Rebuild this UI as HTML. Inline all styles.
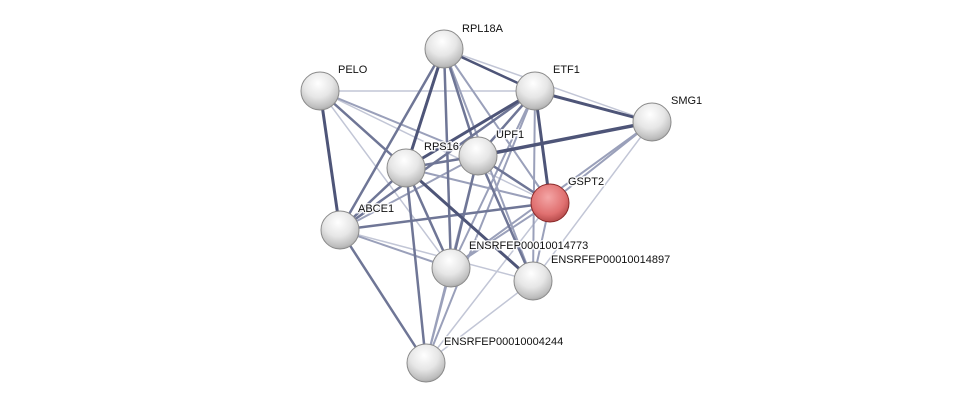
<!DOCTYPE html>
<html><head><meta charset="utf-8"><style>
html,body{margin:0;padding:0;background:#fff;width:976px;height:408px;overflow:hidden}
text{font-family:"Liberation Sans",sans-serif;font-size:11px;fill:#111;paint-order:stroke;stroke:#fff;stroke-width:3px;stroke-opacity:0.85}
</style></head><body>
<svg width="976" height="408" viewBox="0 0 976 408" xmlns="http://www.w3.org/2000/svg">
<defs>
<radialGradient id="g" cx="0.45" cy="0.3" r="0.75">
<stop offset="0" stop-color="#ffffff"/><stop offset="0.5" stop-color="#e6e6e6"/><stop offset="0.85" stop-color="#bdbdbd"/><stop offset="1" stop-color="#9a9a9a"/></radialGradient>
<radialGradient id="r" cx="0.45" cy="0.35" r="0.75">
<stop offset="0" stop-color="#f4a6a6"/><stop offset="0.6" stop-color="#e07070"/><stop offset="1" stop-color="#a33a3a"/></radialGradient>
</defs>
<g stroke-linecap="round">
<g stroke="#c2c6d6" stroke-width="1.5">
<line x1="320" y1="91" x2="535" y2="91"/>
<line x1="444" y1="49" x2="652" y2="122"/>
<line x1="320" y1="91" x2="550" y2="203"/>
<line x1="320" y1="91" x2="451" y2="268"/>
<line x1="652" y1="122" x2="533" y2="281"/>
<line x1="535" y1="91" x2="652" y2="122"/>
<line x1="340" y1="230" x2="533" y2="281"/>
<line x1="426" y1="363" x2="533" y2="281"/>
<line x1="406" y1="168" x2="533" y2="281"/>
<line x1="550" y1="203" x2="426" y2="363"/>
</g>
<g stroke="#9aa0ba" stroke-width="2">
<line x1="444" y1="49" x2="535" y2="91"/>
<line x1="444" y1="49" x2="550" y2="203"/>
<line x1="444" y1="49" x2="533" y2="281"/>
<line x1="652" y1="122" x2="550" y2="203"/>
<line x1="652" y1="122" x2="451" y2="268"/>
<line x1="320" y1="91" x2="478" y2="156"/>
<line x1="340" y1="230" x2="451" y2="268"/>
<line x1="535" y1="91" x2="451" y2="268"/>
<line x1="535" y1="91" x2="426" y2="363"/>
<line x1="478" y1="156" x2="426" y2="363"/>
<line x1="478" y1="156" x2="340" y2="230"/>
<line x1="550" y1="203" x2="451" y2="268"/>
<line x1="451" y1="268" x2="426" y2="363"/>
<line x1="550" y1="203" x2="533" y2="281"/>
<line x1="406" y1="168" x2="550" y2="203"/>
<line x1="535" y1="91" x2="533" y2="281"/>
</g>
<g stroke="#6f7696" stroke-width="2.5">
<line x1="444" y1="49" x2="406" y2="168"/>
<line x1="444" y1="49" x2="478" y2="156"/>
<line x1="444" y1="49" x2="340" y2="230"/>
<line x1="444" y1="49" x2="451" y2="268"/>
<line x1="535" y1="91" x2="478" y2="156"/>
<line x1="535" y1="91" x2="340" y2="230"/>
<line x1="478" y1="156" x2="550" y2="203"/>
<line x1="478" y1="156" x2="451" y2="268"/>
<line x1="478" y1="156" x2="533" y2="281"/>
<line x1="406" y1="168" x2="451" y2="268"/>
<line x1="406" y1="168" x2="426" y2="363"/>
<line x1="406" y1="168" x2="478" y2="156"/>
<line x1="340" y1="230" x2="426" y2="363"/>
<line x1="550" y1="203" x2="340" y2="230"/>
<line x1="320" y1="91" x2="406" y2="168"/>
<line x1="406" y1="168" x2="340" y2="230"/>
</g>
<g stroke="#4e5578" stroke-width="3">
<line x1="320" y1="91" x2="340" y2="230"/>
<line x1="444" y1="49" x2="535" y2="91" stroke-width="2.5"/>
<line x1="535" y1="91" x2="406" y2="168"/>
<line x1="535" y1="91" x2="550" y2="203"/>
<line x1="535" y1="91" x2="652" y2="122"/>
<line x1="652" y1="122" x2="478" y2="156" stroke-width="3.5"/>
<line x1="406" y1="168" x2="533" y2="281"/>
<line x1="444" y1="49" x2="406" y2="168" stroke-width="3"/>
</g>
</g>
<g stroke="#8a8a8a" stroke-width="1">
<circle cx="444" cy="49" r="19" fill="url(#g)"/>
<circle cx="320" cy="91" r="19" fill="url(#g)"/>
<circle cx="535" cy="91" r="19" fill="url(#g)"/>
<circle cx="652" cy="122" r="19" fill="url(#g)"/>
<circle cx="478" cy="156" r="19" fill="url(#g)"/>
<circle cx="406" cy="168" r="19" fill="url(#g)"/>
<circle cx="550" cy="203" r="19" fill="url(#r)" stroke="#8a2a2a"/>
<circle cx="340" cy="230" r="19" fill="url(#g)"/>
<circle cx="451" cy="268" r="19" fill="url(#g)"/>
<circle cx="533" cy="281" r="19" fill="url(#g)"/>
<circle cx="426" cy="363" r="19" fill="url(#g)"/>
</g>
<text x="462" y="32">RPL18A</text>
<text x="338" y="73">PELO</text>
<text x="553" y="73">ETF1</text>
<text x="671" y="104">SMG1</text>
<text x="496" y="138">UPF1</text>
<text x="424" y="150">RPS16</text>
<text x="568" y="185">GSPT2</text>
<text x="358" y="212">ABCE1</text>
<text x="469" y="249">ENSRFEP00010014773</text>
<text x="551" y="263">ENSRFEP00010014897</text>
<text x="444" y="345">ENSRFEP00010004244</text>
</svg>
</body></html>
